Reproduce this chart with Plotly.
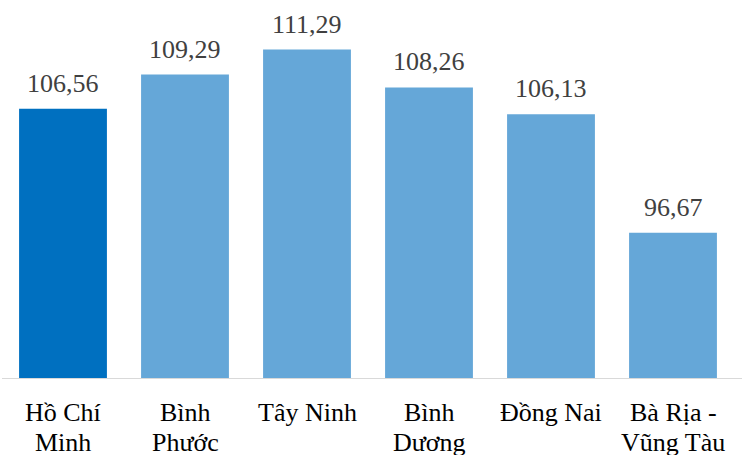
import plotly.graph_objects as go

# provinces (two-line labels) and index values
line1 = ["Hồ Chí", "Bình", "Tây Ninh", "Bình", "Đồng Nai", "Bà Rịa -"]
line2 = ["Minh", "Phước", "", "Dương", "", "Vũng Tàu"]
provinces = [a + (" " + b if b else "") for a, b in zip(line1, line2)]
values = [106.56, 109.29, 111.29, 108.26, 106.13, 96.67]

colours = ["#0070C0"] + ["#65A7D8"] * (len(values) - 1)
FONT = "Liberation Serif, Times New Roman, serif"

fig = go.Figure(go.Bar(
    x=provinces,
    y=values,
    marker_color=colours,
    marker_line_width=0,
    hovertemplate="<b>%{x}</b><br>%{y:.2f}<extra></extra>",
))

annotations = []
for p, v in zip(provinces, values):
    annotations.append(dict(
        x=p, y=v, xref="x", yref="y", yanchor="bottom", yshift=9,
        text=f"{v:.2f}".replace(".", ","), showarrow=False,
        font=dict(family=FONT, size=26, color="#404040"),
    ))
for p, a, b in zip(provinces, line1, line2):
    annotations.append(dict(
        x=p, y=0, xref="x", yref="paper", yanchor="middle", yshift=-33,
        text=a, showarrow=False, font=dict(family=FONT, size=26, color="#000000"),
    ))
    if b:
        annotations.append(dict(
            x=p, y=0, xref="x", yref="paper", yanchor="middle", yshift=-63,
            text=b, showarrow=False, font=dict(family=FONT, size=26, color="#000000"),
        ))

fig.update_layout(
    width=742, height=455,
    margin=dict(l=2, r=8, t=3, b=76),
    bargap=0.28,
    plot_bgcolor="#ffffff",
    paper_bgcolor="#ffffff",
    showlegend=False,
    xaxis=dict(showticklabels=False, showgrid=False, zeroline=False, showline=False),
    yaxis=dict(range=[85, 115], visible=False),
    annotations=annotations,
    shapes=[dict(type="line", xref="paper", yref="y", x0=0, x1=1.012, y0=85, y1=85,
                 line=dict(color="#D9D9D9", width=2))],
)

# drop the browser's default page margin so the figure sits at the window origin
fig.write_html("out.html", config={"displayModeBar": False},
               post_script="document.body.style.margin='0';")
